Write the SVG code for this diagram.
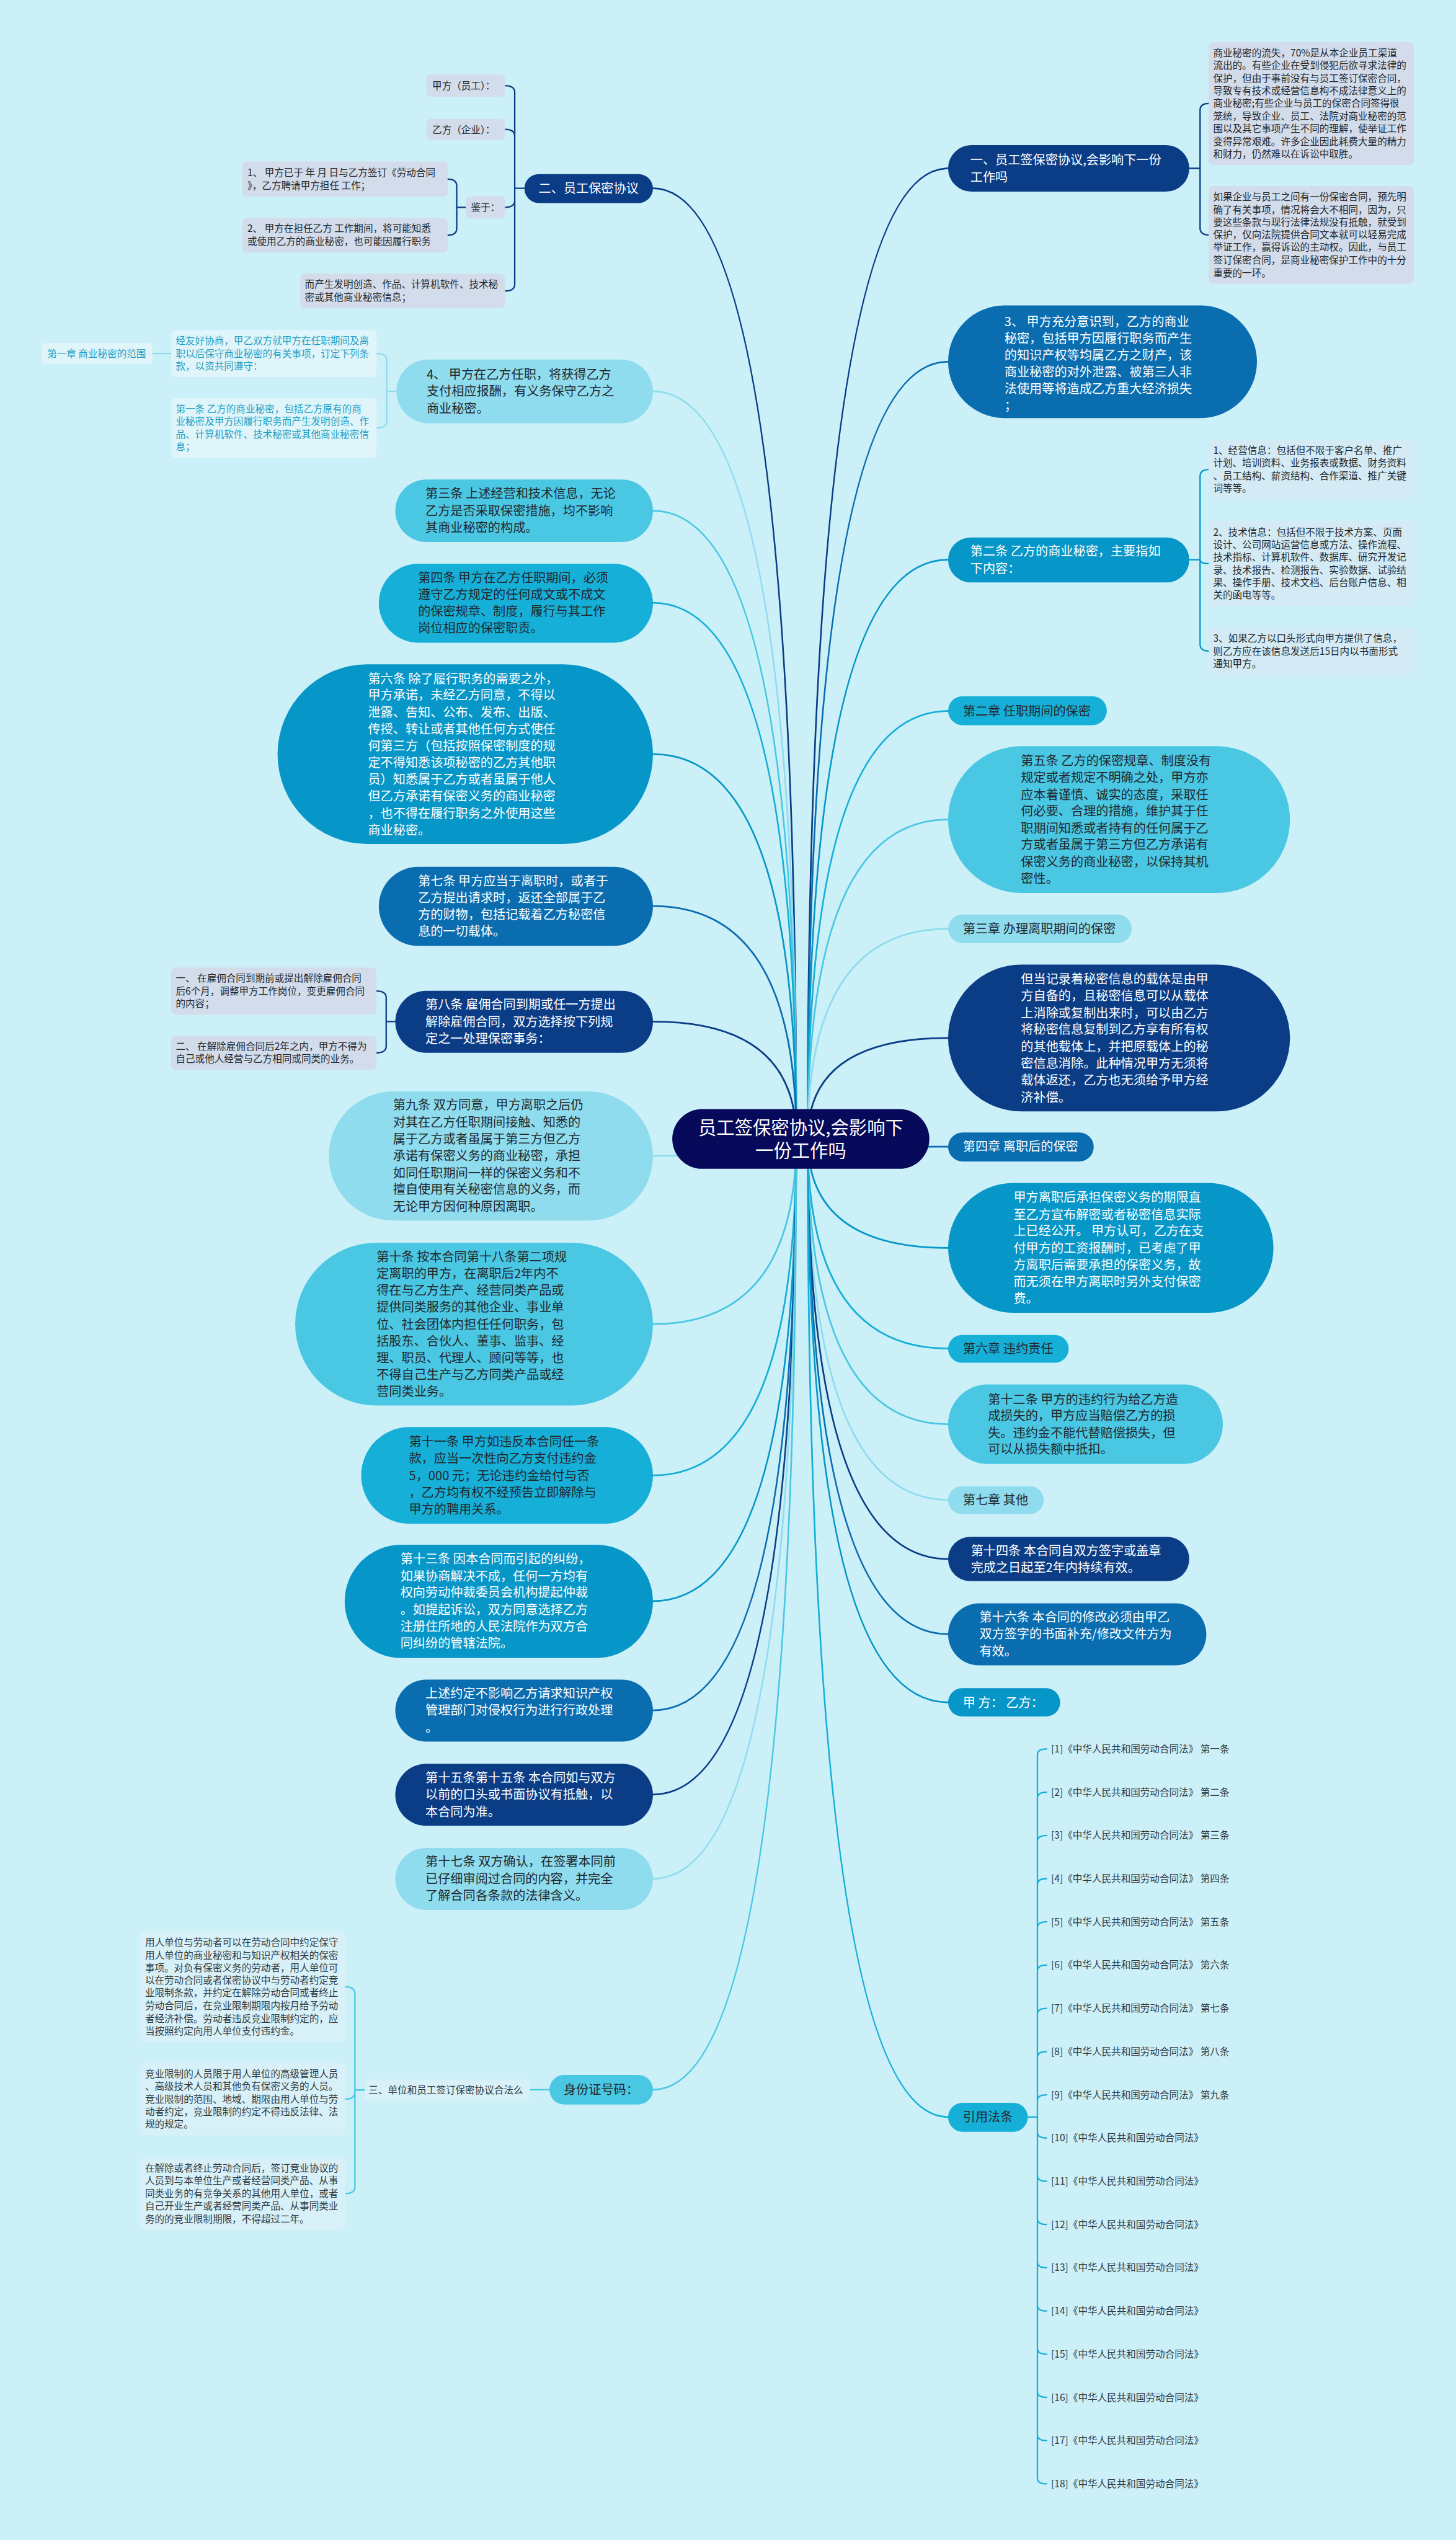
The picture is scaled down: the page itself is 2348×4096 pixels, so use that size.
<svg xmlns="http://www.w3.org/2000/svg" width="2348" height="4096" viewBox="0 0 2348 4096">
<style>
text{font-family:"Noto Sans CJK SC","Noto Sans",sans-serif;}
.w{fill:#ffffff}.d{fill:#22282e}.tl{fill:#1f9fc4}.g{fill:#2f3a44}
.s22{font-size:22px}.s17{font-size:17px}.s32{font-size:32px}
.c0{fill:#07095a}.c1{fill:#0b3d86}.c2{fill:#0a6db0}.c3{fill:#0796c8}.c4{fill:#16afd8}.c5{fill:#4ac7e3}.c6{fill:#8edcee}
.gb{fill:#d3dcea}.lb{fill:#d4ebf5}.pb{fill:#e0f5fa}.qb{fill:#d8f1f8}
.k{fill:none;stroke-width:3;stroke-linecap:round}
.ks{fill:none;stroke-width:2.5;stroke-linecap:round}
.k1{stroke:#0b3d86}.k2{stroke:#0a6db0}.k3{stroke:#0796c8}.k4{stroke:#16afd8}.k5{stroke:#4ac7e3}.k6{stroke:#8edcee}
</style>
<rect x="0" y="0" width="2348" height="4096" fill="#ccf0f8"/>
<g transform="scale(0.9172)">
<g id="connectors">
<path class="k k1" d="M1420 2002 Q1420 296 1667 296"/>
<path class="k k2" d="M1420 2002 Q1420 636 1667 636"/>
<path class="k k3" d="M1420 2002 Q1420 984 1667 984"/>
<path class="k k4" d="M1420 2002 Q1420 1250 1667 1250"/>
<path class="k k5" d="M1420 2002 Q1420 1441 1667 1441"/>
<path class="k k6" d="M1420 2002 Q1420 1633 1667 1633"/>
<path class="k k1" d="M1420 2002 Q1420 1825 1667 1825"/>
<path class="k k2" d="M1420 2002 Q1420 2016 1667 2016"/>
<path class="k k3" d="M1420 2002 Q1420 2194 1667 2194"/>
<path class="k k4" d="M1420 2002 Q1420 2371 1667 2371"/>
<path class="k k5" d="M1420 2002 Q1420 2504 1667 2504"/>
<path class="k k6" d="M1420 2002 Q1420 2637 1667 2637"/>
<path class="k k1" d="M1420 2002 Q1420 2741 1667 2741"/>
<path class="k k2" d="M1420 2002 Q1420 2873 1667 2873"/>
<path class="k k3" d="M1420 2002 Q1420 2993 1667 2993"/>
<path class="k k4" d="M1420 2002 Q1420 3722 1667 3722"/>
<path class="k k1" d="M1400 2002 Q1400 331 1148 331"/>
<path class="k k6" d="M1400 2002 Q1400 688 1148 688"/>
<path class="k k5" d="M1400 2002 Q1400 898 1148 898"/>
<path class="k k4" d="M1400 2002 Q1400 1060 1148 1060"/>
<path class="k k3" d="M1400 2002 Q1400 1326 1148 1326"/>
<path class="k k2" d="M1400 2002 Q1400 1593 1148 1593"/>
<path class="k k1" d="M1400 2002 Q1400 1796 1148 1796"/>
<path class="k k6" d="M1400 2002 Q1400 2032 1148 2032"/>
<path class="k k5" d="M1400 2002 Q1400 2328 1148 2328"/>
<path class="k k4" d="M1400 2002 Q1400 2594 1148 2594"/>
<path class="k k3" d="M1400 2002 Q1400 2815 1148 2815"/>
<path class="k k2" d="M1400 2002 Q1400 3007 1148 3007"/>
<path class="k k1" d="M1400 2002 Q1400 3155 1148 3155"/>
<path class="k k6" d="M1400 2002 Q1400 3303 1148 3303"/>
<path class="k k5" d="M1400 2002 Q1400 3674 1148 3674"/>
<path class="ks k1" d="M2091 296 H2110 M2110 296 V194 Q2110 182 2125 182 M2110 296 V401 Q2110 413 2125 413"/>
<path class="ks k3" d="M2091 984 H2110 M2110 984 V837.5 Q2110 825.5 2125 825.5 M2110 984 Q2110 991 2125 991 M2110 984 V1132.5 Q2110 1144.5 2125 1144.5"/>
<path class="ks k1" d="M922 331 H905 M905 331 V162.5 Q905 150.5 888 150.5 M905 331 V239.5 Q905 227.5 888 227.5 M905 331 V352.5 Q905 364.5 888 364.5 M905 331 V499.5 Q905 511.5 888 511.5"/>
<path class="ks k1" d="M819 364.5 H803 M803 364.5 V327 Q803 315 787 315 M803 364.5 V401.5 Q803 413.5 787 413.5"/>
<path class="ks k6" d="M697 688 H680 M680 688 V633.5 Q680 621.5 662 621.5 M680 688 V740.5 Q680 752.5 662 752.5 M301 621.5 H268"/>
<path class="ks k1" d="M695 1796 H679 M679 1796 V1754.5 Q679 1742.5 662 1742.5 M679 1796 V1839 Q679 1851 662 1851"/>
<path class="ks k5" d="M966 3674 H932 M641 3674.5 H624 M624 3674.5 V3505 Q624 3493 607 3493 M624 3674.5 V3678.5 Q624 3690.5 607 3690.5 M624 3674.5 V3844.5 Q624 3856.5 607 3856.5"/>
<path class="ks k4" d="M1807 3722 H1824 M1824 3085 V4357 M1824 3085 Q1824 3075 1840 3075 M1824 3161 Q1824 3151 1840 3151 M1824 3237 Q1824 3227 1840 3227 M1824 3313 Q1824 3303 1840 3303 M1824 3389 Q1824 3379 1840 3379 M1824 3465 Q1824 3455 1840 3455 M1824 3541 Q1824 3531 1840 3531 M1824 3617 Q1824 3607 1840 3607 M1824 3693 Q1824 3683 1840 3683 M1824 3749 Q1824 3759 1840 3759 M1824 3825 Q1824 3835 1840 3835 M1824 3901 Q1824 3911 1840 3911 M1824 3977 Q1824 3987 1840 3987 M1824 4053 Q1824 4063 1840 4063 M1824 4129 Q1824 4139 1840 4139 M1824 4205 Q1824 4215 1840 4215 M1824 4281 Q1824 4291 1840 4291 M1824 4357 Q1824 4367 1840 4367"/>
</g>

<g id="center">
<rect class="c0" x="1182" y="1950" width="452" height="105" rx="52.5"/>
<text class="w s32" text-anchor="middle"><tspan x="1408" y="1994">员工签保密协议,会影响下</tspan><tspan x="1408" y="2034">一份工作吗</tspan></text>
</g>

<g id="n-r1">
<rect class="c1" x="1667" y="255" width="424" height="82" rx="41"/>
<text class="w s22"><tspan x="1706" y="289">一、员工签保密协议,会影响下一份</tspan><tspan x="1706" y="319">工作吗</tspan></text>
</g>
<g id="n-r1a">
<rect class="gb" x="2125" y="74" width="361" height="216" rx="8"/>
<text class="d s17"><tspan x="2133" y="99">商业秘密的流失，70%是从本企业员工渠道</tspan><tspan x="2133" y="121">流出的。有些企业在受到侵犯后欲寻求法律的</tspan><tspan x="2133" y="144">保护，但由于事前没有与员工签订保密合同，</tspan><tspan x="2133" y="166">导致专有技术或经营信息构不成法律意义上的</tspan><tspan x="2133" y="188">商业秘密;有些企业与员工的保密合同签得很</tspan><tspan x="2133" y="210">笼统，导致企业、员工、法院对商业秘密的范</tspan><tspan x="2133" y="232">围以及其它事项产生不同的理解，使举证工作</tspan><tspan x="2133" y="255">变得异常艰难。许多企业因此耗费大量的精力</tspan><tspan x="2133" y="277">和财力，仍然难以在诉讼中取胜。</tspan></text>
</g>
<g id="n-r1b">
<rect class="gb" x="2125" y="327" width="361" height="172" rx="8"/>
<text class="d s17"><tspan x="2133" y="352">如果企业与员工之间有一份保密合同，预先明</tspan><tspan x="2133" y="375">确了有关事项，情况将会大不相同，因为，只</tspan><tspan x="2133" y="397">要这些条款与现行法律法规没有抵触，就受到</tspan><tspan x="2133" y="419">保护，仅向法院提供合同文本就可以轻易完成</tspan><tspan x="2133" y="441">举证工作，赢得诉讼的主动权。因此，与员工</tspan><tspan x="2133" y="463">签订保密合同，是商业秘密保护工作中的十分</tspan><tspan x="2133" y="486">重要的一环。</tspan></text>
</g>

<g id="n-r2">
<rect class="c2" x="1667" y="537" width="543" height="198" rx="99"/>
<text class="w s22"><tspan x="1766" y="573">3、 甲方充分意识到，乙方的商业</tspan><tspan x="1766" y="603">秘密，包括甲方因履行职务而产生</tspan><tspan x="1766" y="632">的知识产权等均属乙方之财产，该</tspan><tspan x="1766" y="662">商业秘密的对外泄露、被第三人非</tspan><tspan x="1766" y="691">法使用等将造成乙方重大经济损失</tspan><tspan x="1766" y="721">；</tspan></text>
</g>

<g id="n-r3">
<rect class="c3" x="1667" y="945" width="424" height="79" rx="39.5"/>
<text class="w s22"><tspan x="1706" y="977">第二条 乙方的商业秘密，主要指如</tspan><tspan x="1706" y="1007">下内容：</tspan></text>
</g>
<g id="n-r3a">
<rect class="lb" x="2125" y="774" width="361" height="103" rx="8"/>
<text class="d s17"><tspan x="2133" y="798">1、经营信息：包括但不限于客户名单、推广</tspan><tspan x="2133" y="820">计划、培训资料、业务报表或数据、财务资料</tspan><tspan x="2133" y="843">、员工结构、薪资结构、合作渠道、推广关键</tspan><tspan x="2133" y="865">词等等。</tspan></text>
</g>
<g id="n-r3b">
<rect class="lb" x="2125" y="916" width="361" height="150" rx="8"/>
<text class="d s17"><tspan x="2133" y="942">2、技术信息：包括但不限于技术方案、页面</tspan><tspan x="2133" y="964">设计、公司网站运营信息或方法、操作流程、</tspan><tspan x="2133" y="986">技术指标、计算机软件、数据库、研究开发记</tspan><tspan x="2133" y="1008">录、技术报告、检测报告、实验数据、试验结</tspan><tspan x="2133" y="1030">果、操作手册、技术文档、后台账户信息、相</tspan><tspan x="2133" y="1052">关的函电等等。</tspan></text>
</g>
<g id="n-r3c">
<rect class="lb" x="2125" y="1103" width="361" height="83" rx="8"/>
<text class="d s17"><tspan x="2133" y="1128">3、如果乙方以口头形式向甲方提供了信息，</tspan><tspan x="2133" y="1151">则乙方应在该信息发送后15日内以书面形式</tspan><tspan x="2133" y="1173">通知甲方。</tspan></text>
</g>

<g id="n-r4">
<rect class="c4" x="1667" y="1224" width="279" height="51" rx="25.5"/>
<text class="d s22" x="1693" y="1258">第二章 任职期间的保密</text>
</g>
<g id="n-r5">
<rect class="c5" x="1667" y="1312" width="601" height="258" rx="129"/>
<text class="d s22"><tspan x="1795" y="1345">第五条 乙方的保密规章、制度没有</tspan><tspan x="1795" y="1375">规定或者规定不明确之处，甲方亦</tspan><tspan x="1795" y="1405">应本着谨慎、诚实的态度，采取任</tspan><tspan x="1795" y="1434">何必要、合理的措施，维护其于任</tspan><tspan x="1795" y="1464">职期间知悉或者持有的任何属于乙</tspan><tspan x="1795" y="1493">方或者虽属于第三方但乙方承诺有</tspan><tspan x="1795" y="1523">保密义务的商业秘密，以保持其机</tspan><tspan x="1795" y="1553">密性。</tspan></text>
</g>
<g id="n-r6">
<rect class="c6" x="1667" y="1608" width="323" height="50" rx="25"/>
<text class="d s22" x="1693" y="1641">第三章 办理离职期间的保密</text>
</g>
<g id="n-r7">
<rect class="c1" x="1667" y="1696" width="601" height="258" rx="129"/>
<text class="w s22"><tspan x="1795" y="1729">但当记录着秘密信息的载体是由甲</tspan><tspan x="1795" y="1759">方自备的，且秘密信息可以从载体</tspan><tspan x="1795" y="1789">上消除或复制出来时，可以由乙方</tspan><tspan x="1795" y="1818">将秘密信息复制到乙方享有所有权</tspan><tspan x="1795" y="1848">的其他载体上，并把原载体上的秘</tspan><tspan x="1795" y="1877">密信息消除。此种情况甲方无须将</tspan><tspan x="1795" y="1907">载体返还，乙方也无须给予甲方经</tspan><tspan x="1795" y="1937">济补偿。</tspan></text>
</g>
<g id="n-r8">
<rect class="c2" x="1667" y="1991" width="256" height="51" rx="25.5"/>
<text class="w s22" x="1693" y="2024">第四章 离职后的保密</text>
</g>
<g id="n-r9">
<rect class="c3" x="1667" y="2080" width="572" height="228" rx="114"/>
<text class="w s22"><tspan x="1782" y="2113">甲方离职后承担保密义务的期限直</tspan><tspan x="1782" y="2143">至乙方宣布解密或者秘密信息实际</tspan><tspan x="1782" y="2172">上已经公开。 甲方认可，乙方在支</tspan><tspan x="1782" y="2202">付甲方的工资报酬时，已考虑了甲</tspan><tspan x="1782" y="2232">方离职后需要承担的保密义务，故</tspan><tspan x="1782" y="2261">而无须在甲方离职时另外支付保密</tspan><tspan x="1782" y="2291">费。</tspan></text>
</g>
<g id="n-r10">
<rect class="c4" x="1667" y="2347" width="212" height="49" rx="24.5"/>
<text class="d s22" x="1693" y="2379">第六章 违约责任</text>
</g>
<g id="n-r11">
<rect class="c5" x="1667" y="2434" width="483" height="140" rx="70"/>
<text class="d s22"><tspan x="1737" y="2468">第十二条 甲方的违约行为给乙方造</tspan><tspan x="1737" y="2497">成损失的，甲方应当赔偿乙方的损</tspan><tspan x="1737" y="2527">失。违约金不能代替赔偿损失，但</tspan><tspan x="1737" y="2556">可以从损失额中抵扣。</tspan></text>
</g>
<g id="n-r12">
<rect class="c6" x="1667" y="2613" width="168" height="49" rx="24.5"/>
<text class="d s22" x="1693" y="2645">第七章 其他</text>
</g>
<g id="n-r13">
<rect class="c1" x="1667" y="2702" width="424" height="78" rx="39"/>
<text class="w s22"><tspan x="1707" y="2734">第十四条 本合同自双方签字或盖章</tspan><tspan x="1707" y="2764">完成之日起至2年内持续有效。</tspan></text>
</g>
<g id="n-r14">
<rect class="c2" x="1667" y="2819" width="454" height="109" rx="54.5"/>
<text class="w s22"><tspan x="1722" y="2851">第十六条 本合同的修改必须由甲乙</tspan><tspan x="1722" y="2881">双方签字的书面补充/修改文件方为</tspan><tspan x="1722" y="2911">有效。</tspan></text>
</g>
<g id="n-r15">
<rect class="c3" x="1667" y="2968" width="197" height="50" rx="25"/>
<text class="w s22" x="1693" y="3001">甲 方： 乙方：</text>
</g>
<g id="n-r16">
<rect class="c4" x="1667" y="3697" width="140" height="51" rx="25.5"/>
<text class="d s22" x="1693" y="3730">引用法条</text>
</g>
<g id="n-refs" class="g s17">
<text x="1848" y="3081">[1]《中华人民共和国劳动合同法》 第一条</text>
<text x="1848" y="3157">[2]《中华人民共和国劳动合同法》 第二条</text>
<text x="1848" y="3233">[3]《中华人民共和国劳动合同法》 第三条</text>
<text x="1848" y="3309">[4]《中华人民共和国劳动合同法》 第四条</text>
<text x="1848" y="3385">[5]《中华人民共和国劳动合同法》 第五条</text>
<text x="1848" y="3461">[6]《中华人民共和国劳动合同法》 第六条</text>
<text x="1848" y="3537">[7]《中华人民共和国劳动合同法》 第七条</text>
<text x="1848" y="3613">[8]《中华人民共和国劳动合同法》 第八条</text>
<text x="1848" y="3689">[9]《中华人民共和国劳动合同法》 第九条</text>
<text x="1848" y="3765">[10]《中华人民共和国劳动合同法》</text>
<text x="1848" y="3841">[11]《中华人民共和国劳动合同法》</text>
<text x="1848" y="3917">[12]《中华人民共和国劳动合同法》</text>
<text x="1848" y="3993">[13]《中华人民共和国劳动合同法》</text>
<text x="1848" y="4069">[14]《中华人民共和国劳动合同法》</text>
<text x="1848" y="4145">[15]《中华人民共和国劳动合同法》</text>
<text x="1848" y="4221">[16]《中华人民共和国劳动合同法》</text>
<text x="1848" y="4297">[17]《中华人民共和国劳动合同法》</text>
<text x="1848" y="4373">[18]《中华人民共和国劳动合同法》</text>
</g>

<g id="n-l1">
<rect class="c1" x="922" y="306" width="226" height="51" rx="25.5"/>
<text class="w s22" x="947" y="339">二、员工保密协议</text>
</g>
<g id="n-l1a"><rect class="gb" x="750" y="131" width="138" height="39" rx="7"/><text class="d s17" x="760" y="157">甲方（员工）：</text></g>
<g id="n-l1b"><rect class="gb" x="750" y="209" width="138" height="37" rx="7"/><text class="d s17" x="760" y="234">乙方（企业）：</text></g>
<g id="n-l1c"><rect class="gb" x="819" y="345" width="69" height="39" rx="7"/><text class="d s17" x="828" y="371">鉴于：</text></g>
<g id="n-l1c1"><rect class="gb" x="426" y="284" width="361" height="62" rx="8"/><text class="d s17"><tspan x="435" y="310">1、 甲方已于 年 月 日与乙方签订《劳动合同</tspan><tspan x="435" y="332">》，乙方聘请甲方担任 工作；</tspan></text></g>
<g id="n-l1c2"><rect class="gb" x="426" y="383" width="361" height="61" rx="8"/><text class="d s17"><tspan x="435" y="408">2、 甲方在担任乙方 工作期间，将可能知悉</tspan><tspan x="435" y="431">或使用乙方的商业秘密，也可能因履行职务</tspan></text></g>
<g id="n-l1d"><rect class="gb" x="528" y="481" width="360" height="61" rx="8"/><text class="d s17"><tspan x="536" y="506">而产生发明创造、作品、计算机软件、技术秘</tspan><tspan x="536" y="529">密或其他商业秘密信息；</tspan></text></g>

<g id="n-l2">
<rect class="c6" x="697" y="632" width="451" height="112" rx="56"/>
<text class="d s22"><tspan x="750" y="666">4、 甲方在乙方任职，将获得乙方</tspan><tspan x="750" y="696">支付相应报酬，有义务保守乙方之</tspan><tspan x="750" y="726">商业秘密。</tspan></text>
</g>
<g id="n-l2a"><rect class="pb" x="301" y="580" width="361" height="83" rx="8"/><text class="tl s17"><tspan x="309" y="605">经友好协商，甲乙双方就甲方在任职期间及离</tspan><tspan x="309" y="628">职以后保守商业秘密的有关事项，订定下列条</tspan><tspan x="309" y="650">款，以资共同遵守：</tspan></text></g>
<g id="n-l2a1"><rect class="pb" x="74" y="603" width="194" height="37" rx="7"/><text class="tl s17" x="83" y="628">第一章 商业秘密的范围</text></g>
<g id="n-l2b"><rect class="pb" x="301" y="700" width="361" height="105" rx="8"/><text class="tl s17"><tspan x="309" y="725">第一条 乙方的商业秘密，包括乙方原有的商</tspan><tspan x="309" y="747">业秘密及甲方因履行职务而产生发明创造、作</tspan><tspan x="309" y="770">品、计算机软件、技术秘密或其他商业秘密信</tspan><tspan x="309" y="792">息；</tspan></text></g>

<g id="n-l3">
<rect class="c5" x="695" y="843" width="453" height="110" rx="55"/>
<text class="d s22"><tspan x="748" y="876">第三条 上述经营和技术信息，无论</tspan><tspan x="748" y="906">乙方是否采取保密措施，均不影响</tspan><tspan x="748" y="936">其商业秘密的构成。</tspan></text>
</g>
<g id="n-l4">
<rect class="c4" x="666" y="991" width="482" height="139" rx="69.5"/>
<text class="d s22"><tspan x="735" y="1024">第四条 甲方在乙方任职期间，必须</tspan><tspan x="735" y="1053">遵守乙方规定的任何成文或不成文</tspan><tspan x="735" y="1083">的保密规章、制度，履行与其工作</tspan><tspan x="735" y="1112">岗位相应的保密职责。</tspan></text>
</g>
<g id="n-l5">
<rect class="c3" x="488" y="1168" width="660" height="316" rx="158"/>
<text class="w s22"><tspan x="647" y="1201">第六条 除了履行职务的需要之外，</tspan><tspan x="647" y="1230">甲方承诺，未经乙方同意，不得以</tspan><tspan x="647" y="1260">泄露、告知、公布、发布、出版、</tspan><tspan x="647" y="1290">传授、转让或者其他任何方式使任</tspan><tspan x="647" y="1319">何第三方（包括按照保密制度的规</tspan><tspan x="647" y="1349">定不得知悉该项秘密的乙方其他职</tspan><tspan x="647" y="1378">员）知悉属于乙方或者虽属于他人</tspan><tspan x="647" y="1408">但乙方承诺有保密义务的商业秘密</tspan><tspan x="647" y="1438">，也不得在履行职务之外使用这些</tspan><tspan x="647" y="1467">商业秘密。</tspan></text>
</g>
<g id="n-l6">
<rect class="c2" x="666" y="1524" width="482" height="139" rx="69.5"/>
<text class="w s22"><tspan x="735" y="1557">第七条 甲方应当于离职时，或者于</tspan><tspan x="735" y="1586">乙方提出请求时，返还全部属于乙</tspan><tspan x="735" y="1616">方的财物，包括记载着乙方秘密信</tspan><tspan x="735" y="1645">息的一切载体。</tspan></text>
</g>
<g id="n-l7">
<rect class="c1" x="695" y="1742" width="453" height="109" rx="54.5"/>
<text class="w s22"><tspan x="748" y="1774">第八条 雇佣合同到期或任一方提出</tspan><tspan x="748" y="1804">解除雇佣合同，双方选择按下列规</tspan><tspan x="748" y="1834">定之一处理保密事务：</tspan></text>
</g>
<g id="n-l7a"><rect class="gb" x="301" y="1701" width="361" height="83" rx="8"/><text class="d s17"><tspan x="309" y="1726">一、 在雇佣合同到期前或提出解除雇佣合同</tspan><tspan x="309" y="1749">后6个月，调整甲方工作岗位，变更雇佣合同</tspan><tspan x="309" y="1771">的内容；</tspan></text></g>
<g id="n-l7b"><rect class="gb" x="301" y="1821" width="361" height="60" rx="8"/><text class="d s17"><tspan x="309" y="1846">二、 在解除雇佣合同后2年之内，甲方不得为</tspan><tspan x="309" y="1868">自己或他人经营与乙方相同或同类的业务。</tspan></text></g>

<g id="n-l8">
<rect class="c6" x="578" y="1919" width="570" height="227" rx="113.5"/>
<text class="d s22"><tspan x="691" y="1951">第九条 双方同意，甲方离职之后仍</tspan><tspan x="691" y="1981">对其在乙方任职期间接触、知悉的</tspan><tspan x="691" y="2010">属于乙方或者虽属于第三方但乙方</tspan><tspan x="691" y="2040">承诺有保密义务的商业秘密，承担</tspan><tspan x="691" y="2070">如同任职期间一样的保密义务和不</tspan><tspan x="691" y="2099">擅自使用有关秘密信息的义务，而</tspan><tspan x="691" y="2129">无论甲方因何种原因离职。</tspan></text>
</g>
<g id="n-l9">
<rect class="c5" x="519" y="2185" width="629" height="286" rx="143"/>
<text class="d s22"><tspan x="662" y="2218">第十条 按本合同第十八条第二项规</tspan><tspan x="662" y="2247">定离职的甲方，在离职后2年内不</tspan><tspan x="662" y="2277">得在与乙方生产、经营同类产品或</tspan><tspan x="662" y="2306">提供同类服务的其他企业、事业单</tspan><tspan x="662" y="2336">位、社会团体内担任任何职务，包</tspan><tspan x="662" y="2366">括股东、合伙人、董事、监事、经</tspan><tspan x="662" y="2395">理、职员、代理人、顾问等等，也</tspan><tspan x="662" y="2425">不得自己生产与乙方同类产品或经</tspan><tspan x="662" y="2454">营同类业务。</tspan></text>
</g>
<g id="n-l10">
<rect class="c4" x="635" y="2509" width="513" height="170" rx="85"/>
<text class="d s22"><tspan x="719" y="2543">第十一条 甲方如违反本合同任一条</tspan><tspan x="719" y="2572">款，应当一次性向乙方支付违约金</tspan><tspan x="719" y="2602">5，000 元；无论违约金给付与否</tspan><tspan x="719" y="2632">，乙方均有权不经预告立即解除与</tspan><tspan x="719" y="2661">甲方的聘用关系。</tspan></text>
</g>
<g id="n-l11">
<rect class="c3" x="606" y="2716" width="542" height="199" rx="99.5"/>
<text class="w s22"><tspan x="704" y="2749">第十三条 因本合同而引起的纠纷，</tspan><tspan x="704" y="2779">如果协商解决不成，任何一方均有</tspan><tspan x="704" y="2808">权向劳动仲裁委员会机构提起仲裁</tspan><tspan x="704" y="2838">。如提起诉讼，双方同意选择乙方</tspan><tspan x="704" y="2867">注册住所地的人民法院作为双方合</tspan><tspan x="704" y="2897">同纠纷的管辖法院。</tspan></text>
</g>
<g id="n-l12">
<rect class="c2" x="695" y="2953" width="453" height="109" rx="54.5"/>
<text class="w s22"><tspan x="748" y="2985">上述约定不影响乙方请求知识产权</tspan><tspan x="748" y="3015">管理部门对侵权行为进行行政处理</tspan><tspan x="748" y="3045">。</tspan></text>
</g>
<g id="n-l13">
<rect class="c1" x="695" y="3101" width="453" height="109" rx="54.5"/>
<text class="w s22"><tspan x="748" y="3133">第十五条第十五条 本合同如与双方</tspan><tspan x="748" y="3163">以前的口头或书面协议有抵触，以</tspan><tspan x="748" y="3193">本合同为准。</tspan></text>
</g>
<g id="n-l14">
<rect class="c6" x="695" y="3249" width="453" height="109" rx="54.5"/>
<text class="d s22"><tspan x="748" y="3281">第十七条 双方确认，在签署本同前</tspan><tspan x="748" y="3311">已仔细审阅过合同的内容，并完全</tspan><tspan x="748" y="3341">了解合同各条款的法律含义。</tspan></text>
</g>
<g id="n-l15">
<rect class="c5" x="966" y="3648" width="182" height="52" rx="26"/>
<text class="d s22" x="991" y="3682">身份证号码：</text>
</g>
<g id="n-l15a"><rect class="qb" x="641" y="3656" width="291" height="37" rx="7"/><text class="g s17" x="648" y="3681">三、单位和员工签订保密协议合法么</text></g>
<g id="n-l15a1"><rect class="qb" x="246" y="3396" width="361" height="194" rx="8"/><text class="g s17"><tspan x="255" y="3421">用人单位与劳动者可以在劳动合同中约定保守</tspan><tspan x="255" y="3444">用人单位的商业秘密和与知识产权相关的保密</tspan><tspan x="255" y="3466">事项。对负有保密义务的劳动者，用人单位可</tspan><tspan x="255" y="3488">以在劳动合同或者保密协议中与劳动者约定竞</tspan><tspan x="255" y="3510">业限制条款，并约定在解除劳动合同或者终止</tspan><tspan x="255" y="3532">劳动合同后，在竞业限制期限内按月给予劳动</tspan><tspan x="255" y="3555">者经济补偿。劳动者违反竞业限制约定的，应</tspan><tspan x="255" y="3577">当按照约定向用人单位支付违约金。</tspan></text></g>
<g id="n-l15a2"><rect class="qb" x="246" y="3627" width="361" height="127" rx="8"/><text class="g s17"><tspan x="255" y="3652">竞业限制的人员限于用人单位的高级管理人员</tspan><tspan x="255" y="3674">、高级技术人员和其他负有保密义务的人员。</tspan><tspan x="255" y="3697">竞业限制的范围、地域、期限由用人单位与劳</tspan><tspan x="255" y="3719">动者约定，竞业限制的约定不得违反法律、法</tspan><tspan x="255" y="3741">规的规定。</tspan></text></g>
<g id="n-l15a3"><rect class="qb" x="246" y="3793" width="361" height="127" rx="8"/><text class="g s17"><tspan x="255" y="3818">在解除或者终止劳动合同后，签订竞业协议的</tspan><tspan x="255" y="3840">人员到与本单位生产或者经营同类产品、从事</tspan><tspan x="255" y="3863">同类业务的有竞争关系的其他用人单位，或者</tspan><tspan x="255" y="3885">自己开业生产或者经营同类产品、从事同类业</tspan><tspan x="255" y="3907">务的的竞业限制期限，不得超过二年。</tspan></text></g>
</g>
</svg>
